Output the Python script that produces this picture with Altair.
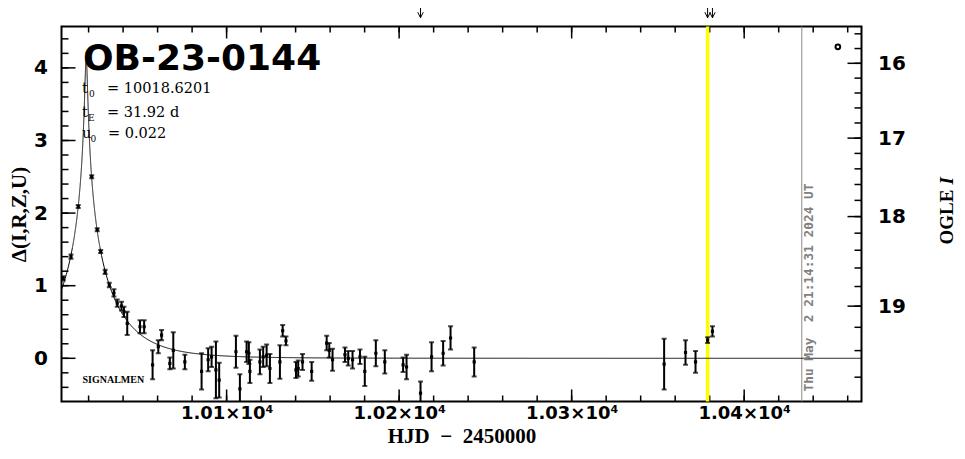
import numpy as np
import pandas as pd
import altair as alt

# ---------------- data ----------------
hjd = [10005.3, 10009.8, 10014.0, 10021.8, 10025.0, 10027.0, 10029.6, 10032.0, 10034.7, 10036.6,
       10039.1, 10040.5, 10042.4, 10049.8, 10052.2, 10057.1, 10060.4, 10062.3, 10067.1, 10069.1,
       10075.8, 10085.5, 10089.3, 10091.3, 10093.8, 10095.7, 10105.4, 10107.7, 10111.6, 10112.9,
       10113.5, 10119.3, 10121.2, 10123.2, 10125.1, 10130.9, 10132.5, 10134.4, 10140.2, 10141.5,
       10144.0, 10149.3, 10158.0, 10159.5, 10161.4, 10168.6, 10170.5, 10173.0, 10177.3, 10180.1,
       10186.5, 10191.7, 10202.3, 10204.3, 10212.4, 10218.8, 10225.5, 10229.8, 10243.5, 10353.6,
       10366.0, 10371.8, 10378.8, 10381.6]
delta = [1.10, 1.40, 2.09, 2.50, 1.77, 1.47, 1.19, 1.01, 0.90, 0.76,
         0.72, 0.64, 0.48, 0.435, 0.435, -0.09, 0.16, 0.32, -0.07, 0.11,
         -0.05, -0.18, -0.02, 0.02, -0.16, -0.30, 0.09, -0.42, 0.09, 0.07,
         -0.18, -0.05, 0.02, 0.04, -0.14, -0.05, 0.38, 0.24, -0.16, -0.14,
         -0.05, -0.18, 0.21, 0.11, -0.02, 0.05, 0.00, -0.02, 0.02, -0.18,
         0.07, -0.05, -0.09, -0.12, -0.48, 0.02, 0.07, 0.28, -0.05, -0.08,
         0.08, -0.05, 0.25, 0.37]
err = [0.03, 0.03, 0.02, 0.02, 0.02, 0.02, 0.03, 0.03, 0.05, 0.05,
       0.06, 0.07, 0.16, 0.09, 0.09, 0.20, 0.09, 0.07, 0.08, 0.25,
       0.10, 0.25, 0.16, 0.14, 0.39, 0.24, 0.22, 0.20, 0.14, 0.15,
       0.16, 0.17, 0.14, 0.15, 0.20, 0.23, 0.08, 0.06, 0.11, 0.11,
       0.11, 0.13, 0.10, 0.10, 0.15, 0.10, 0.10, 0.12, 0.10, 0.20,
       0.18, 0.16, 0.10, 0.17, 0.16, 0.20, 0.17, 0.16, 0.20, 0.35,
       0.17, 0.15, 0.04, 0.07]
assert len(hjd) == len(delta) == len(err)

# microlensing fit parameters (shown on the chart)
T0, TE, U0 = 10018.6201, 31.92, 0.022
# OGLE I scale (right axis): baseline magnitude and source fraction
I_BASE, F_SOURCE = 19.461, 0.564

arrow_hjd = [10212.4, 10378.8, 10381.6]
last_obs_hjd = [10378.8]
now_hjd = [10433.39]
ogle_marker_hjd = [10454.3]
ogle_marker_delta = [4.29]

x_major = [10100, 10200, 10300, 10400]
x_minor = list(range(10020, 10461, 20))
y_major = [0, 1, 2, 3, 4]
y_minor = [round(v, 1) for v in np.arange(-0.4, 4.41, 0.2)]
i_major = [16, 17, 18, 19]
i_minor = [round(v, 1) for v in np.arange(15.6, 19.61, 0.2)]

X_DOMAIN = [10004.3, 10468.0]
Y_DOMAIN = [-0.595, 4.570]
W, H = 800, 375

# ---------------- derived tables ----------------
def delta_of_I(I):
    I = np.asarray(I, dtype=float)
    return 2.5 * np.log10((10 ** (-0.4 * (I - I_BASE)) - (1 - F_SOURCE)) / F_SOURCE)

obs = pd.DataFrame({"t": hjd, "d": delta, "e": err})
obs["lo"] = obs["d"] - obs["e"]
obs["hi"] = obs["d"] + obs["e"]
caps = pd.concat([pd.DataFrame({"t": obs["t"], "c": obs["lo"]}),
                  pd.DataFrame({"t": obs["t"], "c": obs["hi"]})])

t = np.unique(np.concatenate([np.linspace(X_DOMAIN[0], X_DOMAIN[1], 1500),
                              np.linspace(T0 - 8, T0 + 8, 1600)]))
u = np.sqrt(U0 ** 2 + ((t - T0) / TE) ** 2)
A = (u ** 2 + 2) / (u * np.sqrt(u ** 2 + 4))
model = pd.DataFrame({"t": t, "d": 2.5 * np.log10(A)})

xsc = alt.Scale(domain=X_DOMAIN, nice=False, zero=False)
ysc = alt.Scale(domain=Y_DOMAIN, nice=False, zero=False)

NUMF = "DejaVu Sans"
SERIF = "Liberation Serif"

x_axis = alt.Axis(values=x_major, labelExpr="format(datum.value/10000, '.2f') + '×10⁴'",
                  labelFont=NUMF, labelFontWeight="bold", labelFontSize=18, labelColor="black",
                  labelPadding=3, labelFlush=False, ticks=False, domain=False, grid=False,
                  title="HJD\u00a0 −\u00a0 2450000", titleFont=SERIF, titleFontSize=21,
                  titleFontWeight="bold", titleColor="black", titleY=34.5, titleX=W / 2,
                  titleBaseline="middle", titleAlign="center")
left_axis = alt.Axis(values=y_major, format="d", labelFont=NUMF, labelFontWeight="bold",
                     labelFontSize=20, labelColor="black", labelPadding=14, labelFlush=False,
                     ticks=False, domain=False, grid=False,
                     title="Δ(I,R,Z,U)", titleFont=SERIF, titleFontSize=21, titleFontWeight="bold",
                     titleColor="black", titleAngle=270, titleX=-42.5, titleY=H / 2,
                     titleAlign="center", titleBaseline="middle")
right_expr = ("format(round(%g - 2.5*log(%g + %g*pow(10, 0.4*datum.value))/LN10), 'd')"
              % (I_BASE, 1 - F_SOURCE, F_SOURCE))
right_axis = alt.Axis(orient="right", values=[float(v) for v in delta_of_I(i_major)],
                      labelExpr=right_expr, labelFont=NUMF, labelFontWeight="bold",
                      labelFontSize=20, labelColor="black", labelPadding=16, labelFlush=False,
                      ticks=False, domain=False, grid=False, title=None)

X = lambda f="t", axis=None: alt.X(f"{f}:Q", scale=xsc, axis=axis)
Y = lambda f, axis=None: alt.Y(f"{f}:Q", scale=ysc, axis=axis)

one = pd.DataFrame({"k": [0]})

def text(txt, x, y, size, font=SERIF, weight="normal", style="normal", align="left",
         baseline="alphabetic", angle=0, color="black"):
    return alt.Chart(one).mark_text(text=txt, font=font, fontSize=size, fontWeight=weight,
                                    fontStyle=style, align=align, baseline=baseline,
                                    angle=angle, color=color).encode(
        x=alt.value(x), y=alt.value(y))

# inward ticks (these layers also carry the axes' labels)
bx_minor = alt.Chart(pd.DataFrame({"t": x_minor})).mark_rule(color="black", strokeWidth=1.5)
bx_major = alt.Chart(pd.DataFrame({"t": x_major})).mark_rule(color="black", strokeWidth=1.5)
ticks_bottom_major = bx_major.encode(x=X(axis=x_axis), y=alt.value(H), y2=alt.value(H - 12))
ticks_bottom_minor = bx_minor.encode(x=X(), y=alt.value(H), y2=alt.value(H - 6))
ticks_top_minor = bx_minor.encode(x=X(), y=alt.value(0), y2=alt.value(6))
ticks_top_major = bx_major.encode(x=X(), y=alt.value(0), y2=alt.value(12))

ticks_left_minor = alt.Chart(pd.DataFrame({"v": y_minor})).mark_rule(
    color="black", strokeWidth=1.5).encode(y=Y("v"), x=alt.value(0), x2=alt.value(7))
ticks_left_major = alt.Chart(pd.DataFrame({"v": y_major})).mark_rule(
    color="black", strokeWidth=1.5).encode(y=Y("v", axis=left_axis), x=alt.value(0),
                                           x2=alt.value(14))

ticks_right_minor = alt.Chart(pd.DataFrame({"v": delta_of_I(i_minor)})).mark_rule(
    color="black", strokeWidth=1.5).encode(y=Y("v"), x=alt.value(W), x2=alt.value(W - 7))
ticks_right_major = alt.Chart(pd.DataFrame({"v": delta_of_I(i_major)})).mark_rule(
    color="black", strokeWidth=1.5).encode(y=Y("v", axis=right_axis), x=alt.value(W),
                                           x2=alt.value(W - 14))

# vertical markers
yellow = alt.Chart(pd.DataFrame({"t": last_obs_hjd})).mark_rule(
    color="#ffff00", strokeWidth=3.5).encode(x=X(), y=alt.value(0), y2=alt.value(H))
gray = alt.Chart(pd.DataFrame({"t": now_hjd})).mark_rule(
    color="#8c8c8c", strokeWidth=1).encode(x=X(), y=alt.value(0), y2=alt.value(H))

model_line = alt.Chart(model).mark_line(color="black", strokeWidth=1, clip=True).encode(
    x=X(), y=Y("d"))

bars = alt.Chart(obs).mark_rule(color="black", strokeWidth=2, clip=True).encode(
    x=X(), y=Y("lo"), y2="hi:Q")
cap_ticks = alt.Chart(caps).mark_tick(color="black", thickness=2, size=5,
                                      orient="horizontal", clip=True).encode(x=X(), y=Y("c"))
dots = alt.Chart(obs).mark_square(color="black", size=10, opacity=1, clip=True).encode(
    x=X(), y=Y("d"))

ogle_marker = alt.Chart(pd.DataFrame({"t": ogle_marker_hjd, "d": ogle_marker_delta})).mark_point(
    shape="circle", filled=False, size=22, strokeWidth=2, color="black", opacity=1).encode(
    x=X(), y=Y("d"))

# arrows above the frame
arrows = pd.DataFrame({"t": arrow_hjd})
arrow_shaft = alt.Chart(arrows).mark_rule(color="black", strokeWidth=1).encode(
    x=X(), y=alt.value(-18.5), y2=alt.value(-8.5))
arrow_head = alt.Chart(arrows).mark_point(shape="M -1 -1 L 0 1 L 1 -1", filled=False, size=30,
                                          strokeWidth=1, color="black", opacity=1).encode(
    x=X(), y=alt.value(-11.5))

# annotations
title = text("OB-23-0144", 21.5, 43.5, 36, font=NUMF, weight="bold")
p_size, s_size = 14.5, 9
params = [
    text("t", 20.5, 66.5, p_size, font="DejaVu Serif"),
    text("0", 27.5, 70.5, s_size, font="DejaVu Serif"),
    text("= 10018.6201", 45.5, 66.5, p_size, font="DejaVu Serif"),
    text("t", 20.5, 90.5, p_size, font="DejaVu Serif"),
    text("E", 26.5, 94.0, s_size, font="DejaVu Serif"),
    text("= 31.92 d", 45.5, 90.5, p_size, font="DejaVu Serif"),
    text("u", 20.5, 111.5, p_size, font="DejaVu Serif"),
    text("0", 29.0, 115.5, s_size, font="DejaVu Serif"),
    text("= 0.022", 46.5, 111.5, p_size, font="DejaVu Serif"),
]
signal = text("SIGNALMEN", 21.0, 353.5, 10, weight="bold", baseline="middle")
stamp = text("Thu May\u00a0 2 21:14:31 2024 UT", 747.5, 365.0, 12.8, font="DejaVu Sans Mono",
             weight="bold", angle=270, baseline="middle", color="#7f7f7f")
ogle_title = text("OGLE", 885.5, 218.0, 19, weight="bold", angle=270, baseline="middle")
ogle_I = text("I", 885.5, 158.0, 19, weight="bold", style="italic", angle=270, baseline="middle")

chart = alt.layer(
    ticks_bottom_major, ticks_bottom_minor, ticks_top_minor, ticks_top_major,
    ticks_left_major, ticks_left_minor, ticks_right_major, ticks_right_minor,
    yellow, gray, model_line, bars, cap_ticks, dots, ogle_marker,
    arrow_shaft, arrow_head, title, *params, signal, stamp, ogle_title, ogle_I,
).resolve_axis(x="independent", y="independent").properties(
    width=W, height=H,
    padding={"left": 53.5, "top": 18.5, "right": 95.5, "bottom": 45.5},
    autosize=alt.AutoSizeParams(type="none"),
    background="white",
).configure_view(stroke="black", strokeWidth=2)

chart.save("out.html", embed_options={"renderer": "svg", "actions": False})
